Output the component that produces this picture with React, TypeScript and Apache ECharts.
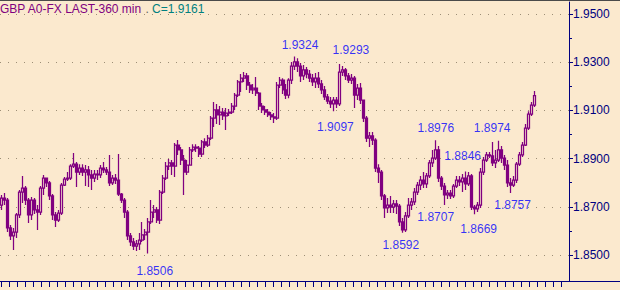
import React, { useEffect, useRef } from "react";
import * as echarts from "echarts";

const titleText = "GBP A0-FX LAST-360 min";
const lastCloseText = "C=1.9161";

// [open, close, low, high]
const candles: number[][] = [
  [1.8707, 1.8736, 1.8687, 1.8749], [1.8736, 1.8728, 1.8707, 1.8757], [1.8728, 1.8612, 1.8595, 1.8736],
  [1.8612, 1.8579, 1.8562, 1.8624], [1.8579, 1.8595, 1.8521, 1.8612], [1.8595, 1.8666, 1.8570, 1.8674],
  [1.8666, 1.8761, 1.8653, 1.8770], [1.8761, 1.8778, 1.8716, 1.8828], [1.8778, 1.8728, 1.8707, 1.8786],
  [1.8728, 1.8666, 1.8633, 1.8736], [1.8666, 1.8728, 1.8645, 1.8741], [1.8728, 1.8687, 1.8670, 1.8736],
  [1.8687, 1.8678, 1.8604, 1.8707], [1.8678, 1.8778, 1.8666, 1.8786], [1.8778, 1.8819, 1.8749, 1.8832],
  [1.8819, 1.8799, 1.8782, 1.8819], [1.8799, 1.8745, 1.8728, 1.8807], [1.8745, 1.8666, 1.8645, 1.8753],
  [1.8666, 1.8645, 1.8616, 1.8678], [1.8645, 1.8674, 1.8637, 1.8687], [1.8674, 1.8790, 1.8666, 1.8799],
  [1.8790, 1.8815, 1.8786, 1.8824], [1.8815, 1.8819, 1.8807, 1.8844], [1.8819, 1.8869, 1.8811, 1.8877],
  [1.8869, 1.8877, 1.8861, 1.8923], [1.8877, 1.8844, 1.8782, 1.8886], [1.8844, 1.8861, 1.8832, 1.8877],
  [1.8861, 1.8844, 1.8828, 1.8877], [1.8844, 1.8853, 1.8786, 1.8873], [1.8853, 1.8832, 1.8782, 1.8869],
  [1.8832, 1.8819, 1.8770, 1.8853], [1.8819, 1.8836, 1.8803, 1.8853], [1.8836, 1.8832, 1.8811, 1.8853],
  [1.8832, 1.8861, 1.8819, 1.8873], [1.8861, 1.8853, 1.8840, 1.8886], [1.8853, 1.8844, 1.8832, 1.8865],
  [1.8844, 1.8799, 1.8786, 1.8915], [1.8799, 1.8819, 1.8790, 1.8832], [1.8819, 1.8811, 1.8795, 1.8836],
  [1.8811, 1.8753, 1.8745, 1.8919], [1.8753, 1.8728, 1.8716, 1.8757], [1.8728, 1.8678, 1.8653, 1.8736],
  [1.8678, 1.8579, 1.8562, 1.8687], [1.8579, 1.8554, 1.8537, 1.8591], [1.8554, 1.8537, 1.8521, 1.8570],
  [1.8537, 1.8546, 1.8517, 1.8562], [1.8546, 1.8562, 1.8521, 1.8591], [1.8562, 1.8583, 1.8554, 1.8637],
  [1.8583, 1.8595, 1.8562, 1.8608], [1.8595, 1.8637, 1.8506, 1.8653], [1.8637, 1.8678, 1.8629, 1.8728],
  [1.8678, 1.8687, 1.8653, 1.8707], [1.8687, 1.8645, 1.8633, 1.8699], [1.8645, 1.8761, 1.8629, 1.8770],
  [1.8761, 1.8819, 1.8753, 1.8832], [1.8819, 1.8869, 1.8811, 1.8886], [1.8869, 1.8882, 1.8853, 1.8898],
  [1.8882, 1.8869, 1.8832, 1.8894], [1.8869, 1.8956, 1.8824, 1.8965], [1.8956, 1.8936, 1.8915, 1.8977],
  [1.8936, 1.8894, 1.8873, 1.8948], [1.8894, 1.8844, 1.8749, 1.8915], [1.8844, 1.8873, 1.8832, 1.8894],
  [1.8873, 1.8936, 1.8873, 1.8948], [1.8936, 1.8948, 1.8927, 1.8960], [1.8948, 1.8944, 1.8927, 1.8960],
  [1.8944, 1.8919, 1.8907, 1.8952], [1.8919, 1.8969, 1.8907, 1.8977], [1.8969, 1.8956, 1.8944, 1.8985],
  [1.8956, 1.8985, 1.8948, 1.8998], [1.8985, 1.9068, 1.8977, 1.9077], [1.9068, 1.9102, 1.9031, 1.9135],
  [1.9102, 1.9081, 1.9044, 1.9127], [1.9081, 1.9093, 1.9039, 1.9118], [1.9093, 1.9077, 1.9060, 1.9110],
  [1.9077, 1.9089, 1.9019, 1.9110], [1.9089, 1.9093, 1.9077, 1.9106], [1.9093, 1.9118, 1.9085, 1.9131],
  [1.9118, 1.9164, 1.9102, 1.9172], [1.9164, 1.9218, 1.9156, 1.9226], [1.9218, 1.9234, 1.9176, 1.9251],
  [1.9234, 1.9243, 1.9218, 1.9259], [1.9243, 1.9205, 1.9185, 1.9255], [1.9205, 1.9185, 1.9172, 1.9218],
  [1.9185, 1.9193, 1.9168, 1.9210], [1.9193, 1.9172, 1.9160, 1.9239], [1.9172, 1.9118, 1.9102, 1.9176],
  [1.9118, 1.9102, 1.9089, 1.9131], [1.9102, 1.9093, 1.9081, 1.9118], [1.9093, 1.9081, 1.9073, 1.9106],
  [1.9081, 1.9073, 1.9060, 1.9093], [1.9073, 1.9068, 1.9048, 1.9089], [1.9068, 1.9205, 1.9060, 1.9218],
  [1.9205, 1.9226, 1.9193, 1.9239], [1.9226, 1.9185, 1.9168, 1.9234], [1.9185, 1.9164, 1.9147, 1.9210],
  [1.9164, 1.9226, 1.9151, 1.9234], [1.9226, 1.9284, 1.9210, 1.9301], [1.9284, 1.9301, 1.9268, 1.9324],
  [1.9301, 1.9284, 1.9259, 1.9317], [1.9284, 1.9243, 1.9218, 1.9297], [1.9243, 1.9268, 1.9226, 1.9288],
  [1.9268, 1.9251, 1.9234, 1.9280], [1.9251, 1.9234, 1.9218, 1.9268], [1.9234, 1.9218, 1.9201, 1.9251],
  [1.9218, 1.9234, 1.9193, 1.9255], [1.9234, 1.9210, 1.9193, 1.9259], [1.9210, 1.9185, 1.9168, 1.9226],
  [1.9185, 1.9156, 1.9143, 1.9201], [1.9156, 1.9139, 1.9127, 1.9168], [1.9139, 1.9127, 1.9110, 1.9156],
  [1.9127, 1.9143, 1.9097, 1.9156], [1.9143, 1.9127, 1.9110, 1.9156], [1.9127, 1.9259, 1.9118, 1.9293],
  [1.9259, 1.9268, 1.9243, 1.9284], [1.9268, 1.9243, 1.9226, 1.9276], [1.9243, 1.9226, 1.9214, 1.9255],
  [1.9226, 1.9234, 1.9210, 1.9251], [1.9234, 1.9164, 1.9110, 1.9243], [1.9164, 1.9193, 1.9143, 1.9210],
  [1.9193, 1.9143, 1.9127, 1.9214], [1.9143, 1.9068, 1.9052, 1.9143], [1.9068, 1.8985, 1.8969, 1.9077],
  [1.8985, 1.8994, 1.8948, 1.9010], [1.8994, 1.8977, 1.8956, 1.9010], [1.8977, 1.8861, 1.8844, 1.8985],
  [1.8861, 1.8844, 1.8799, 1.8877], [1.8844, 1.8745, 1.8728, 1.8853], [1.8745, 1.8695, 1.8653, 1.8753],
  [1.8695, 1.8707, 1.8674, 1.8736], [1.8707, 1.8699, 1.8674, 1.8745], [1.8699, 1.8712, 1.8674, 1.8728],
  [1.8712, 1.8703, 1.8670, 1.8728], [1.8703, 1.8637, 1.8620, 1.8712], [1.8637, 1.8604, 1.8592, 1.8653],
  [1.8604, 1.8662, 1.8595, 1.8678], [1.8662, 1.8707, 1.8653, 1.8736], [1.8707, 1.8720, 1.8687, 1.8736],
  [1.8720, 1.8761, 1.8707, 1.8778], [1.8761, 1.8790, 1.8749, 1.8803], [1.8790, 1.8811, 1.8770, 1.8828],
  [1.8811, 1.8795, 1.8778, 1.8844], [1.8795, 1.8828, 1.8778, 1.8840], [1.8828, 1.8882, 1.8819, 1.8894],
  [1.8882, 1.8902, 1.8865, 1.8936], [1.8902, 1.8936, 1.8894, 1.8976], [1.8936, 1.8819, 1.8803, 1.8952],
  [1.8819, 1.8786, 1.8770, 1.8828], [1.8786, 1.8749, 1.8707, 1.8799], [1.8749, 1.8757, 1.8732, 1.8770],
  [1.8757, 1.8745, 1.8732, 1.8770], [1.8745, 1.8786, 1.8736, 1.8795], [1.8786, 1.8811, 1.8778, 1.8828],
  [1.8811, 1.8803, 1.8786, 1.8828], [1.8803, 1.8819, 1.8761, 1.8836], [1.8819, 1.8795, 1.8770, 1.8846],
  [1.8795, 1.8828, 1.8786, 1.8844], [1.8828, 1.8699, 1.8687, 1.8836], [1.8699, 1.8691, 1.8669, 1.8707],
  [1.8691, 1.8707, 1.8678, 1.8720], [1.8707, 1.8844, 1.8695, 1.8861], [1.8844, 1.8894, 1.8832, 1.8907],
  [1.8894, 1.8915, 1.8886, 1.8927], [1.8915, 1.8911, 1.8902, 1.8927], [1.8911, 1.8882, 1.8869, 1.8969],
  [1.8882, 1.8894, 1.8861, 1.8936], [1.8894, 1.8936, 1.8886, 1.8974], [1.8936, 1.8902, 1.8882, 1.8952],
  [1.8902, 1.8873, 1.8853, 1.8915], [1.8873, 1.8799, 1.8782, 1.8894], [1.8799, 1.8790, 1.8757, 1.8819],
  [1.8790, 1.8811, 1.8782, 1.8828], [1.8811, 1.8877, 1.8799, 1.8886], [1.8877, 1.8915, 1.8869, 1.8927],
  [1.8915, 1.8956, 1.8907, 1.8969], [1.8956, 1.9027, 1.8952, 1.9044], [1.9027, 1.9085, 1.9019, 1.9097],
  [1.9085, 1.9122, 1.9077, 1.9135], [1.9122, 1.9161, 1.9114, 1.9181],
];

const emptySlots = 11;

const yLabelValues = [1.85, 1.87, 1.89, 1.91, 1.93, 1.95];
const yMinorValues = [1.86, 1.88, 1.9, 1.92, 1.94];

// extremes marked on the chart: [candle index, value]
const annotations: { index: number; value: number }[] = [
  { index: 49, value: 1.8506 },
  { index: 98, value: 1.9324 },
  { index: 113, value: 1.9293 },
  { index: 111, value: 1.9097 },
  { index: 134, value: 1.8592 },
  { index: 145, value: 1.8976 },
  { index: 148, value: 1.8707 },
  { index: 155, value: 1.8846 },
  { index: 158, value: 1.8669 },
  { index: 166, value: 1.8974 },
  { index: 170, value: 1.8757 },
];

// label placement (style), pixel offsets from the marked extreme
const annotationOffsets: [number, number][] = [
  [6.5, 17.5], [5, -11.5], [11, -14], [1.5, 16], [-2, 12], [0, -12.5],
  [-9, 11.5], [-3, -16], [4, 14.5], [-6.5, -12.5], [2, 12],
];

const BG = "#FBE9CE";
const PURPLE = "#800080";
const NAVY = "#000080";
const FONT = "'Liberation Sans', Arial, sans-serif";

export default function App() {
  const ref = useRef<HTMLDivElement>(null);

  useEffect(() => {
    if (!ref.current) return;
    const chart = echarts.init(ref.current, undefined, { renderer: "svg" });
    const categories = Array.from({ length: candles.length + emptySlots }, (_, i) => String(i + 1));
    const bottomTicks = Array.from({ length: 71 }, (_, k) => k);

    chart.setOption({
      animation: false,
      backgroundColor: BG,
      title: {
        left: 0,
        top: 3,
        padding: 0,
        text: `{a|${titleText}} {b|.} {c|${lastCloseText}}`,
        textStyle: {
          fontFamily: FONT,
          fontSize: 12,
          fontWeight: "normal",
          rich: {
            a: { color: PURPLE, fontFamily: FONT, fontSize: 12 },
            b: { color: "#606060", fontFamily: FONT, fontSize: 12 },
            c: { color: "#008080", fontFamily: FONT, fontSize: 12 },
          },
        },
      },
      grid: { left: 0, right: 51, top: 2, bottom: 9, outerBoundsMode: "none" },
      xAxis: [
        {
          type: "category",
          data: categories,
          boundaryGap: true,
          axisLine: { show: false, onZero: false },
          axisTick: { show: false },
          axisLabel: { show: false },
          splitLine: { show: false },
        },
        {
          type: "value",
          min: -0.1625,
          max: 569 / 8 - 0.1625,
          position: "bottom",
          axisLine: { show: false, onZero: false },
          axisTick: { show: true, length: 6, lineStyle: { color: NAVY, width: 1 }, customValues: bottomTicks },
          axisLabel: { show: false, customValues: bottomTicks },
          splitLine: { show: false },
          minorSplitLine: { show: false },
        },
      ],
      yAxis: [
        {
          type: "value",
          position: "right",
          min: 1.8392,
          max: 1.955,
          axisLine: { show: true, onZero: false, lineStyle: { color: NAVY, width: 1 } },
          axisTick: { show: true, length: 4, lineStyle: { color: NAVY }, customValues: yLabelValues },
          axisLabel: {
            show: true,
            customValues: yLabelValues,
            margin: 4,
            color: NAVY,
            fontFamily: FONT,
            fontSize: 12,
            formatter: (v: number) => v.toFixed(4),
          },
          splitLine: { show: true, lineStyle: { color: "#9C8E76", width: 1, type: [1, 7] } },
        },
        {
          type: "value",
          position: "right",
          min: 1.8392,
          max: 1.955,
          axisLine: { show: false, onZero: false },
          axisTick: { show: true, length: 3, lineStyle: { color: NAVY }, customValues: yMinorValues },
          axisLabel: { show: false, customValues: yMinorValues },
          splitLine: { show: false },
        },
      ],
      series: [
        {
          type: "candlestick",
          data: candles,
          barWidth: 2.5,
          itemStyle: {
            color: BG,
            color0: PURPLE,
            borderColor: PURPLE,
            borderColor0: PURPLE,
            borderWidth: 1.25,
          },
        },
        {
          type: "scatter",
          symbol: "circle",
          symbolSize: 1,
          itemStyle: { color: "rgba(0,0,0,0)" },
          z: 5,
          data: annotations.map((a, i) => ({
            name: a.value.toFixed(4),
            value: [a.index, a.value],
            label: { offset: annotationOffsets[i] },
          })),
          label: {
            show: true,
            position: "inside",
            formatter: (p: any) => p.name,
            color: "#0000FF",
            fontFamily: FONT,
            fontSize: 12,
          },
        },
      ],
      graphic: [
        { type: "rect", shape: { x: 0, y: 0, width: 620, height: 1 }, style: { fill: "#4A4A4A" }, silent: true },
        { type: "rect", shape: { x: 0, y: 281, width: 620, height: 1 }, style: { fill: NAVY }, silent: true },
      ],
    });

    return () => chart.dispose();
  }, []);

  return (
    <div
      ref={ref}
      style={{ position: "fixed", left: 0, top: 0, width: 620, height: 290 }}
    />
  );
}
